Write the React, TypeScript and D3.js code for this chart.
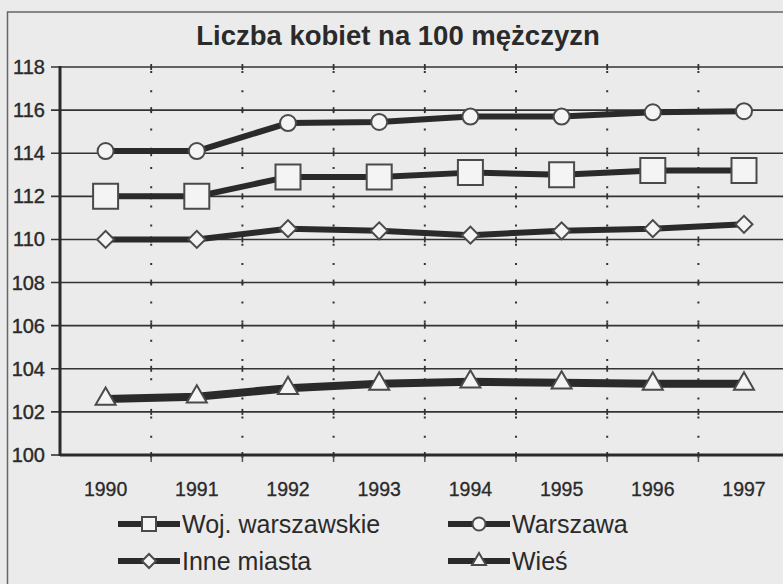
import React from 'react';
import * as d3 from 'd3';

const years = ['1990', '1991', '1992', '1993', '1994', '1995', '1996', '1997'];
const wojWarszawskie = [112.0, 112.0, 112.9, 112.9, 113.1, 113.0, 113.2, 113.2];
const warszawa = [114.1, 114.1, 115.4, 115.45, 115.7, 115.7, 115.9, 115.95];
const inneMiasta = [110.0, 110.0, 110.5, 110.4, 110.2, 110.4, 110.5, 110.7];
const wies = [102.6, 102.7, 103.1, 103.3, 103.4, 103.35, 103.3, 103.3];
const yTicks = [100, 102, 104, 106, 108, 110, 112, 114, 116, 118];
const title = 'Liczba kobiet na 100 mężczyzn';

const width = 783;
const height = 584;
const FONT = 'Liberation Sans, Arial, sans-serif';
const INK = '#2a2a2a';
const BG = '#ebebeb';

const x = d3.scaleBand<string>().domain(years).range([60, 60 + 8 * 91.2]).paddingInner(0).paddingOuter(0);
const y = d3.scaleLinear().domain([100, 118]).range([455, 67]);

type Marker = 'square' | 'circle' | 'diamond' | 'triangle';

const series: { name: string; values: number[]; marker: Marker; lw: number }[] = [
  { name: 'Woj. warszawskie', values: wojWarszawskie, marker: 'square', lw: 6 },
  { name: 'Warszawa', values: warszawa, marker: 'circle', lw: 6 },
  { name: 'Inne miasta', values: inneMiasta, marker: 'diamond', lw: 6 },
  { name: 'Wieś', values: wies, marker: 'triangle', lw: 8 },
];

// marker shapes, size = approx pixel width
const markerPath = (m: Marker, w: number) => {
  if (m === 'square') return d3.symbol(d3.symbolSquare, w * w)()!;
  if (m === 'circle') return d3.symbol(d3.symbolCircle, Math.PI * (w / 2) ** 2)()!;
  if (m === 'diamond') return d3.symbol(d3.symbolSquare, (w * w) / 2)()!;
  return d3.symbol(d3.symbolTriangle, (Math.sqrt(3) / 4) * w * w)()!;
};

const MarkerShape = ({ m, w, cx, cy }: { m: Marker; w: number; cx: number; cy: number }) => (
  <path
    d={markerPath(m, w)}
    transform={`translate(${cx},${cy})${m === 'diamond' ? ' rotate(45)' : ''}`}
    fill="#f4f4f4"
    stroke="#4a4a4a"
    strokeWidth={2}
  />
);

const markerSize: Record<Marker, number> = { square: 25, circle: 16, diamond: 17, triangle: 20 };
const legendSize: Record<Marker, number> = { square: 14, circle: 13, diamond: 14, triangle: 14 };

const legendPos = [
  { lx: 118, ty: 524 },
  { lx: 448, ty: 524 },
  { lx: 118, ty: 561 },
  { lx: 448, ty: 561 },
];

export default function App() {
  const bw = x.bandwidth();
  const cx = (d: string) => (x(d) as number) + bw / 2;
  const boundaries = d3.range(1, years.length + 1).map((i) => 60 + i * bw);
  const line = d3
    .line<number>()
    .x((_, i) => cx(years[i]))
    .y((v) => y(v));

  return (
    <svg
      width={width}
      height={height}
      style={{ position: 'absolute', left: 0, top: 0, display: 'block', fontFamily: FONT }}
    >
      <rect width={width} height={height} fill={BG} />
      {/* outer frame */}
      <path d={`M7.5,${height} V12 H${width}`} fill="none" stroke="#666" strokeWidth={1.5} />

      <text x={398} y={45} textAnchor="middle" fontWeight="bold" fontSize={27.5} fill={INK}>
        {title}
      </text>

      {/* horizontal gridlines + y labels */}
      {yTicks.map((t) => (
        <g key={t}>
          {t !== 100 && (
            <line x1={51} x2={width} y1={y(t)} y2={y(t)} stroke="#333" strokeWidth={1.6} />
          )}
          <text x={45} y={y(t) + 7} textAnchor="end" fontSize={20} fill={INK} stroke={INK} strokeWidth={0.4}>
            {t}
          </text>
        </g>
      ))}

      {/* vertical dotted gridlines */}
      {boundaries.map((bx) => (
        <g key={bx}>
          <line
            x1={bx}
            x2={bx}
            y1={y(118) + 2}
            y2={y(100)}
            stroke="#333"
            strokeWidth={2}
            strokeDasharray="2 17.2"
            strokeDashoffset={-2}
          />
          {yTicks.map((t) => (
            <line key={t} x1={bx} x2={bx} y1={y(t) - 3} y2={y(t) + 3} stroke="#333" strokeWidth={1.8} />
          ))}
          <line x1={bx} x2={bx} y1={y(100)} y2={y(100) + 7} stroke="#555" strokeWidth={1.5} />
        </g>
      ))}

      {/* axes */}
      <line x1={60} x2={width} y1={y(100)} y2={y(100)} stroke={INK} strokeWidth={3} />
      <line x1={51} x2={60} y1={y(100)} y2={y(100)} stroke="#333" strokeWidth={1.6} />
      <line x1={60} x2={60} y1={y(118) - 1} y2={y(100) + 1} stroke={INK} strokeWidth={3} />

      {years.map((yr) => (
        <text key={yr} x={cx(yr)} y={496} textAnchor="middle" fontSize={19.5} fill={INK} stroke={INK} strokeWidth={0.3}>
          {yr}
        </text>
      ))}

      {/* series */}
      {series.map((s) => (
        <g key={s.name}>
          <path d={line(s.values)!} fill="none" stroke={INK} strokeWidth={s.lw} strokeLinejoin="round" />
          {s.values.map((v, i) => (
            <MarkerShape key={i} m={s.marker} w={markerSize[s.marker]} cx={cx(years[i])} cy={y(v)} />
          ))}
        </g>
      ))}

      {/* legend */}
      {series.map((s, i) => {
        const p = legendPos[i];
        return (
          <g key={s.name}>
            <line x1={p.lx} x2={p.lx + 62} y1={p.ty} y2={p.ty} stroke={INK} strokeWidth={6} />
            <MarkerShape m={s.marker} w={legendSize[s.marker]} cx={p.lx + 31} cy={p.ty} />
            <text x={p.lx + 64} y={p.ty + 9} fontSize={25} fill={INK}>
              {s.name}
            </text>
          </g>
        );
      })}
    </svg>
  );
}
